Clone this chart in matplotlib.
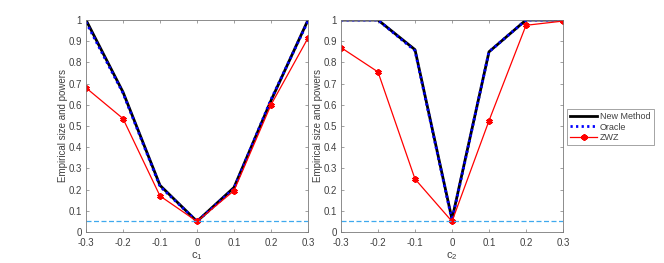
import matplotlib
matplotlib.use('Agg')
import matplotlib.pyplot as plt

plt.rcParams['font.family'] = ['Liberation Sans', 'DejaVu Sans']
plt.rcParams['font.size'] = 7

c_vals = [-0.3, -0.2, -0.1, 0, 0.1, 0.2, 0.3]

# panel 1 (c1)
new_c1 = [1.0, 0.66, 0.22, 0.05, 0.21, 0.62, 1.0]
oracle_c1 = [0.99, 0.655, 0.215, 0.05, 0.205, 0.625, 0.995]
zwz_c1 = [0.68, 0.535, 0.17, 0.05, 0.195, 0.60, 0.915]

# panel 2 (c2)
new_c2 = [1.0, 1.0, 0.86, 0.06, 0.85, 1.0, 1.0]
oracle_c2 = [1.0, 1.0, 0.855, 0.055, 0.85, 1.0, 1.0]
zwz_c2 = [0.87, 0.755, 0.25, 0.05, 0.525, 0.975, 0.995]

nominal = 0.05
yticks = [0, 0.1, 0.2, 0.3, 0.4, 0.5, 0.6, 0.7, 0.8, 0.9, 1]
ytick_labels = ['0', '0.1', '0.2', '0.3', '0.4', '0.5', '0.6', '0.7', '0.8', '0.9', '1']
xtick_labels = ['-0.3', '-0.2', '-0.1', '0', '0.1', '0.2', '0.3']

fig = plt.figure(figsize=(6.64, 2.63), dpi=100)
ax1 = fig.add_axes([86/664, 1 - 232/263, 222/664, 212/263])
ax2 = fig.add_axes([341/664, 1 - 232/263, 222/664, 212/263])

txt = '#404040'
edge = '#7a7a7a'
for ax, new, ora, zwz, lab in [(ax1, new_c1, oracle_c1, zwz_c1, '$\\mathregular{c_1}$'),
                               (ax2, new_c2, oracle_c2, zwz_c2, '$\\mathregular{c_2}$')]:
    ax.plot(c_vals, new, color='black', lw=2.0, label='New Method')
    ax.plot(c_vals, ora, color='blue', lw=2.0, ls=(0, (0.8, 1.2)), label='Oracle')
    ax.plot(c_vals, zwz, color='red', lw=0.9, marker=(6, 2, 0), ms=4.5, mew=1.5, label='ZWZ')
    ax.axhline(nominal, color='#3FA9EE', lw=0.9, ls=(0, (4, 2)))
    ax.set_xlim(-0.3, 0.3)
    ax.set_ylim(0, 1)
    ax.set_xticks(c_vals)
    ax.set_xticklabels(xtick_labels)
    ax.set_yticks(yticks)
    ax.set_yticklabels(ytick_labels)
    ax.tick_params(direction='in', length=2.5, width=0.5, color=edge, labelcolor=txt,
                   labelsize=7, top=True, right=True)
    ax.tick_params(axis='x', pad=4)
    ax.tick_params(axis='y', pad=3)
    for s in ax.spines.values():
        s.set_linewidth(0.6)
        s.set_color(edge)
    ax.set_xlabel(lab, color=txt, fontsize=8, labelpad=2)
    ax.set_ylabel('Empirical size and powers', color=txt, fontsize=7, labelpad=0)

leg = ax2.legend(loc='center left', bbox_to_anchor=(567/664, 1 - 127/263),
                 bbox_transform=fig.transFigure, fontsize=6.5, frameon=True,
                 fancybox=False, edgecolor=edge, handlelength=3.0, borderpad=0.35,
                 labelspacing=0.2, handletextpad=0.3, borderaxespad=0)
leg.get_frame().set_linewidth(0.6)
for t in leg.get_texts():
    t.set_color(txt)

fig.savefig('out.png', dpi=100)
